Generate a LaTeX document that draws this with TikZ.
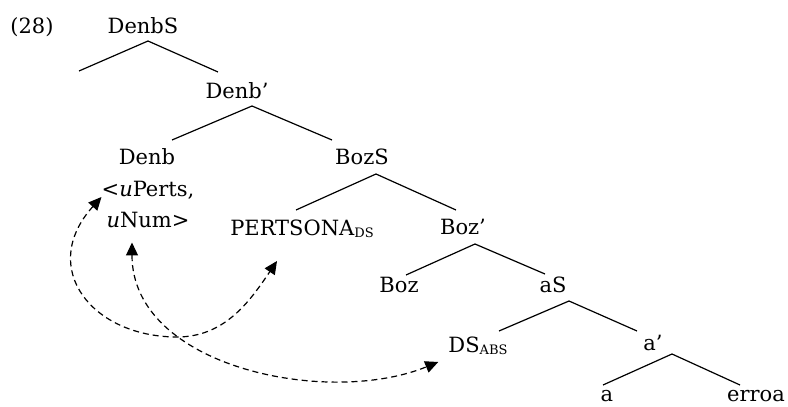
\documentclass[tikz,border=0pt]{standalone}
\usepackage{fontspec}
\setmainfont{DejaVu Serif}
\usetikzlibrary{arrows.meta}
\tikzstyle{lbl} = [anchor=base, inner sep=0pt, font=\fontsize{21}{25}\selectfont]
\tikzstyle{branch} = [line width=1.2pt]
\tikzstyle{link} = [{Triangle[length=13pt,width=12pt]}-{Triangle[length=13pt,width=12pt]},
                    dash pattern=on 6pt off 4pt, line width=1.2pt]
\newcommand{\lowsub}[1]{\raisebox{-2pt}{\fontsize{13}{13}\selectfont #1}}

\begin{document}
\begin{tikzpicture}[x=1pt, y=1pt]
    \useasboundingbox (0,0) rectangle (788,407);
    % Labels
    \node[lbl] (ex) at (32,373) {(28)};
    \node[lbl] (denbS) at (143,373) {DenbS};
    \coordinate (spec) at (79,336);
    \node[lbl] (denbbar) at (237,308) {Denb'};
    \node[lbl] (denb) at (147,242) {Denb};
    \node[lbl] (perts) at (148,210) {<\textit{u}Perts,};
    \node[lbl] (num) at (148,179) {\textit{u}Num>};
    \node[lbl] (bozS) at (362,242) {BozS};
    \node[lbl] (pers) at (302,171) {PERTSONA\lowsub{DS}};
    \node[lbl] (bozbar) at (463,172) {Boz'};
    \node[lbl] (boz) at (399,114) {Boz};
    \node[lbl] (aS) at (553,114) {aS};
    \node[lbl] (dsabs) at (478,54) {DS\lowsub{ABS}};
    \node[lbl] (abar) at (653,56) {a'};
    \node[lbl] (a) at (607,5) {a};
    \node[lbl] (erroa) at (756,5) {erroa};
    \coordinate (loop) at (177,70);

    % Branches
    \draw[branch] ([shift={(5,-7)}]denbS.base) -- (spec);
    \draw[branch] ([shift={(5,-7)}]denbS.base) -- ([shift={(-19,27)}]denbbar.base);
    \draw[branch] ([shift={(15,-7)}]denbbar.base) -- ([shift={(25,25)}]denb.base);
    \draw[branch] ([shift={(15,-7)}]denbbar.base) -- ([shift={(-30,25)}]bozS.base);
    \draw[branch] ([shift={(14,-9)}]bozS.base) -- ([shift={(-6,26)}]pers.base);
    \draw[branch] ([shift={(14,-9)}]bozS.base) -- ([shift={(-7,25)}]bozbar.base);
    \draw[branch] ([shift={(12,-9)}]bozbar.base) -- ([shift={(7,18)}]boz.base);
    \draw[branch] ([shift={(12,-9)}]bozbar.base) -- ([shift={(-8,19)}]aS.base);
    \draw[branch] ([shift={(16,-8)}]aS.base) -- ([shift={(21,22)}]dsabs.base);
    \draw[branch] ([shift={(16,-8)}]aS.base) -- ([shift={(-16,20)}]abar.base);
    \draw[branch] ([shift={(19,-3)}]abar.base) -- ([shift={(-4,17)}]a.base);
    \draw[branch] ([shift={(19,-3)}]abar.base) -- ([shift={(-16,17)}]erroa.base);

    % Agreement links
    \draw[link] (perts.base west) .. controls +(-64,-71) and +(-85,0) .. (loop)
        .. controls +(48,0) and +(-27,-40) .. ([shift={(-25,-25)}]pers.base);
    \draw[link] ([shift={(-16,-14)}]num.south) .. controls +(0,-125) and +(-110,-45)
        .. ([shift={(-10,-9)}]dsabs.base west);
\end{tikzpicture}
\end{document}
